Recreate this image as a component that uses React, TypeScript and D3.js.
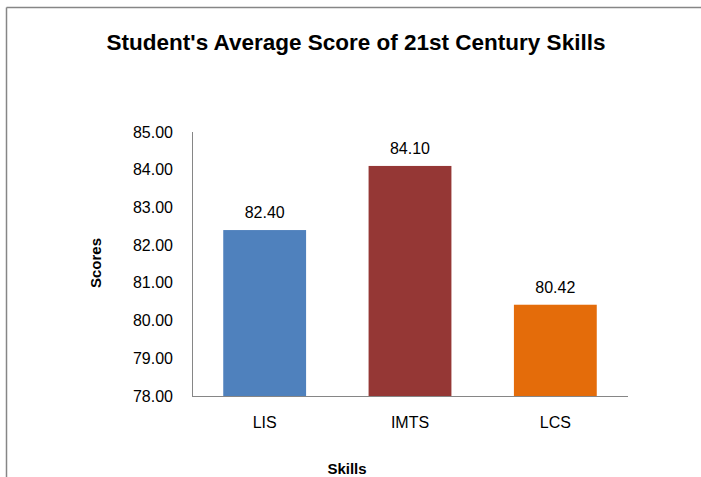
import React from 'react'
import * as d3 from 'd3'

const skills = ['LIS', 'IMTS', 'LCS']
const scores = [82.4, 84.1, 80.42]
const barColors = ['#4F81BD', '#953735', '#E46C0A']
const yTicks = [78, 79, 80, 81, 82, 83, 84, 85]

const width = 701
const height = 477
const margin = { left: 192, right: 73, top: 132, bottom: 81 }
const font = '"Liberation Sans", Arial, sans-serif'

const App = () => {
  const innerWidth = width - margin.left - margin.right
  const innerHeight = height - margin.top - margin.bottom

  const xScale = d3.scaleBand()
    .domain(skills)
    .range([0, innerWidth])
    .paddingInner(0.43)
    .paddingOuter(0.215)

  const yScale = d3.scaleLinear()
    .domain([78, 85])
    .range([innerHeight, 0])

  return (
    <svg width={width} height={height} style={{ position: 'absolute', left: 0, top: 0, background: '#fff' }}>
      {/* chart border, only top and left show */}
      <line x1={6.5} y1={7.5} x2={width} y2={7.5} stroke="#868686" strokeWidth={1.5} />
      <line x1={6.5} y1={7.5} x2={6.5} y2={height} stroke="#868686" strokeWidth={1.5} />

      <text x={356} y={50} textAnchor="middle" fontFamily={font} fontWeight="bold" fontSize={22.5}>
        Student's Average Score of 21st Century Skills
      </text>

      <g transform={`translate(${margin.left},${margin.top})`}>
        {yTicks.map((t, i) => (
          <text key={i} x={-19} y={yScale(t)} dy=".35em" textAnchor="end"
            fontFamily={font} fontSize={16} fill="#000">
            {t.toFixed(2)}
          </text>
        ))}

        {skills.map((s, i) => (
          <g key={s}>
            <rect
              x={xScale(s)}
              y={yScale(scores[i])}
              width={xScale.bandwidth()}
              height={innerHeight - yScale(scores[i])}
              fill={barColors[i]}
            />
            <text
              x={xScale(s)! + xScale.bandwidth() / 2}
              y={yScale(scores[i]) - 12}
              textAnchor="middle"
              fontFamily={font}
              fontSize={16}
            >
              {scores[i].toFixed(2)}
            </text>
            <text
              x={xScale(s)! + xScale.bandwidth() / 2}
              y={innerHeight + 32}
              textAnchor="middle"
              fontFamily={font}
              fontSize={16}
            >
              {s}
            </text>
          </g>
        ))}

        <line x1={0.5} y1={0} x2={0.5} y2={innerHeight} stroke="#868686" />
        <line x1={0} y1={innerHeight + 0.5} x2={innerWidth} y2={innerHeight + 0.5} stroke="#868686" />
      </g>

      <text x={347} y={474} textAnchor="middle" fontFamily={font} fontWeight="bold" fontSize={15}>
        Skills
      </text>
      <text transform="translate(101,263) rotate(-90)" textAnchor="middle" fontFamily={font} fontWeight="bold" fontSize={15}>
        Scores
      </text>
    </svg>
  )
}

export default App
